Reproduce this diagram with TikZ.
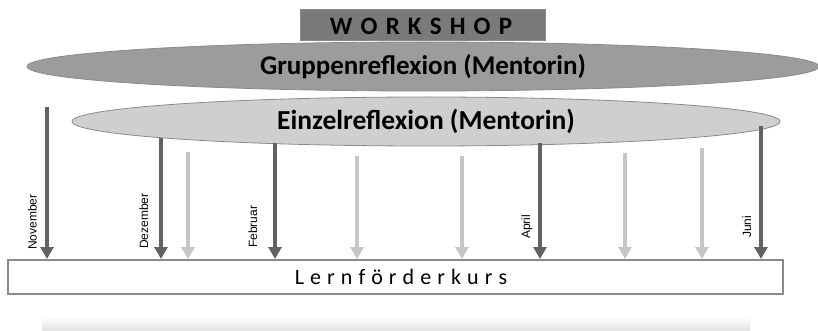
\documentclass[tikz,border=0pt]{standalone}
\usepackage{fontspec}
\setmainfont{Carlito}
\newfontfamily\monthfont{Liberation Sans}
\usetikzlibrary{arrows.meta,shapes.geometric}
\definecolor{darkarrow}{HTML}{626262}
\definecolor{lightarrow}{HTML}{C6C6C6}
\definecolor{wsfill}{HTML}{7A7A7A}
\definecolor{grpfill}{HTML}{9C9C9C}
\definecolor{einfill}{HTML}{CFCFCF}
\definecolor{edgegray}{HTML}{8A8A8A}
\tikzset{
  darr/.style={draw=darkarrow, line width=4pt, -{Triangle[width=13pt,length=12pt]}},
  larr/.style={draw=lightarrow, line width=4pt, -{Triangle[width=13pt,length=12pt]}},
  month/.style={rotate=90, anchor=base west, inner sep=0pt, font=\monthfont\fontsize{12}{13}\selectfont},
  ellbox/.style={ellipse, draw=edgegray, line width=0.8pt, inner sep=0pt},
}
\begin{document}
\begin{tikzpicture}[x=1pt,y=-1pt]
\useasboundingbox (0,0) rectangle (818,331);
% shadow bar
\shade[top color=white, bottom color=black!11] (42,316) rectangle (750,331);
% workshop box
\node[draw=edgegray, fill=wsfill, line width=0.8pt, minimum width=245pt, minimum height=31pt, inner sep=0pt] (ws) at (422.5,24.5) {};
\node[inner sep=0pt, font=\bfseries\fontsize{25}{26}\selectfont\addfontfeature{LetterSpace=10}] (wstext) at (421,26) {W O R K S H O P};
% group reflection ellipse
\node[ellbox, fill=grpfill, minimum width=792pt, minimum height=49pt,
  font=\bfseries\fontsize{27}{28}\selectfont] (grp) at (423,66.5) {Gruppenreflexion (Mentorin)};
% individual reflection ellipse
\node[ellbox, fill=einfill, minimum width=708pt, minimum height=49pt,
  font=\bfseries\fontsize{27.5}{28}\selectfont] (ein) at (426,121.5) {Einzelreflexion (Mentorin)};
% course box
\node[draw=edgegray, fill=white, line width=2pt, minimum width=775pt, minimum height=34pt, inner sep=0pt] (kurs) at (395.5,277) {};
\node[inner sep=0pt, font=\fontsize{22}{24}\selectfont\addfontfeature{LetterSpace=5}] (kurstext) at (401,277) {L e r n f ö r d e r k u r s};
% arrow starts
\coordinate (nov) at (47,107);
\coordinate (dez) at (161,138);
\coordinate (l1) at (188,152);
\coordinate (feb) at (275,143);
\coordinate (l2) at (357,156);
\coordinate (l3) at (462,156);
\coordinate (apr) at (540,143);
\coordinate (l4) at (625,153);
\coordinate (l5) at (702,148);
\coordinate (jun) at (761,126);
% arrows
\foreach \c in {nov,dez,feb,apr,jun} \draw[darr] (\c) -- (\c |- kurs.north);
\foreach \c in {l1,l2,l3,l4,l5} \draw[larr] (\c) -- (\c |- kurs.north);
% month labels
\node[month] (mnov) at (36.5,250) {November};
\node[month] (mdez) at (148,249) {Dezember};
\node[month] (mfeb) at (257,248) {Februar};
\node[month] (mapr) at (530,239) {April};
\node[month] (mjun) at (751,238) {Juni};
\end{tikzpicture}
\end{document}
